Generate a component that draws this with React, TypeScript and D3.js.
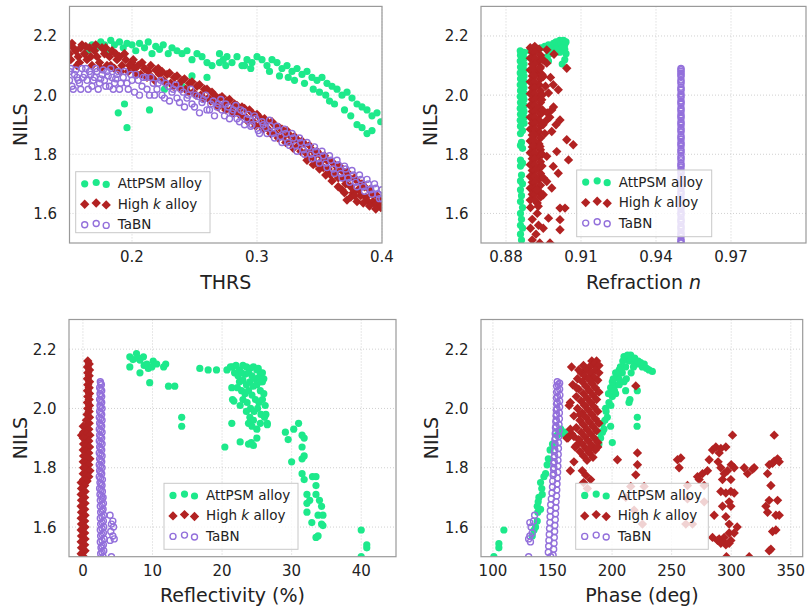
import React, { useEffect, useRef } from "react";
import * as d3 from "d3";

type Pt = [number, number];

// ---- NILS vs THRS ----
const thrsAttPsm: Pt[] = [
  [0.165, 2.15], [0.168, 2.17], [0.172, 2.16], [0.175, 2.18], [0.178, 2.17], [0.18, 2.15], [0.183, 2.185], [0.186, 2.17],
  [0.19, 2.18], [0.193, 2.16], [0.196, 2.175], [0.2, 2.17], [0.203, 2.15], [0.206, 2.175], [0.21, 2.16], [0.213, 2.18],
  [0.216, 2.14], [0.219, 2.165], [0.222, 2.155], [0.225, 2.17], [0.229, 2.14], [0.232, 2.16], [0.236, 2.15], [0.24, 2.14],
  [0.244, 2.15], [0.248, 2.12], [0.252, 2.14], [0.256, 2.13], [0.26, 2.11], [0.264, 2.1], [0.27, 2.14], [0.273, 2.12],
  [0.276, 2.13], [0.28, 2.11], [0.284, 2.13], [0.288, 2.1], [0.292, 2.12], [0.296, 2.11], [0.3, 2.13], [0.304, 2.12],
  [0.308, 2.1], [0.312, 2.12], [0.316, 2.11], [0.32, 2.09], [0.324, 2.1], [0.328, 2.08], [0.332, 2.09], [0.336, 2.07],
  [0.34, 2.08], [0.344, 2.06], [0.348, 2.05], [0.352, 2.06], [0.356, 2.04], [0.36, 2.03], [0.364, 2.02], [0.368, 2.0],
  [0.372, 2.01], [0.376, 1.99], [0.38, 1.97], [0.384, 1.96], [0.388, 1.95], [0.392, 1.93], [0.396, 1.94], [0.399, 1.91],
  [0.27, 2.11], [0.275, 2.1], [0.29, 2.1], [0.295, 2.09], [0.31, 2.08], [0.318, 2.065], [0.325, 2.06], [0.33, 2.05],
  [0.338, 2.04], [0.345, 2.02], [0.35, 2.01], [0.355, 2.0], [0.358, 1.98], [0.362, 1.97], [0.37, 1.95], [0.375, 1.93],
  [0.38, 1.9], [0.384, 1.89], [0.388, 1.87], [0.392, 1.88],
  [0.189, 1.94], [0.194, 1.97], [0.196, 1.89], [0.214, 1.95], [0.226, 2.02], [0.248, 2.065], [0.26, 2.06], [0.24, 2.03],
];
const thrsHighK: Pt[] = [
  [0.15, 2.17], [0.15, 2.14], [0.151, 2.12], [0.153, 2.16], [0.155, 2.15], [0.157, 2.13], [0.158, 2.11], [0.16, 2.17],
  [0.162, 2.14], [0.164, 2.12], [0.166, 2.16], [0.168, 2.1], [0.17, 2.15], [0.172, 2.13], [0.174, 2.11], [0.176, 2.16],
  [0.178, 2.14], [0.18, 2.1], [0.182, 2.13], [0.184, 2.15], [0.186, 2.09], [0.188, 2.12], [0.19, 2.13], [0.192, 2.1],
  [0.195, 2.12], [0.197, 2.08], [0.2, 2.11], [0.202, 2.09], [0.205, 2.1], [0.207, 2.07], [0.21, 2.09], [0.213, 2.08],
  [0.216, 2.06], [0.219, 2.085], [0.222, 2.07], [0.225, 2.05], [0.228, 2.07], [0.231, 2.04], [0.234, 2.06], [0.237, 2.035],
  [0.24, 2.05], [0.243, 2.02], [0.246, 2.04], [0.249, 2.01], [0.252, 2.03], [0.255, 2.0], [0.258, 2.02], [0.261, 1.99],
  [0.264, 2.01], [0.267, 1.975], [0.27, 1.99], [0.273, 1.965], [0.276, 1.98], [0.279, 1.95], [0.282, 1.97], [0.285, 1.94],
  [0.288, 1.96], [0.291, 1.925], [0.294, 1.95], [0.297, 1.91], [0.3, 1.935], [0.303, 1.9], [0.306, 1.92], [0.309, 1.885],
  [0.312, 1.91], [0.315, 1.87], [0.318, 1.89], [0.321, 1.86], [0.324, 1.88], [0.327, 1.84], [0.33, 1.86], [0.333, 1.83],
  [0.336, 1.845], [0.339, 1.805], [0.342, 1.83], [0.345, 1.79], [0.348, 1.81], [0.351, 1.775], [0.354, 1.795], [0.357, 1.75],
  [0.36, 1.775], [0.363, 1.74], [0.366, 1.76], [0.369, 1.72], [0.372, 1.74], [0.375, 1.69], [0.378, 1.72], [0.381, 1.68],
  [0.384, 1.7], [0.387, 1.655], [0.39, 1.68], [0.393, 1.64], [0.396, 1.66], [0.399, 1.62], [0.4, 1.64],
  [0.152, 2.175], [0.156, 2.1], [0.159, 2.16], [0.163, 2.165], [0.167, 2.13], [0.171, 2.17], [0.175, 2.09], [0.179, 2.16],
  [0.183, 2.1], [0.187, 2.14], [0.191, 2.08], [0.194, 2.14], [0.198, 2.1], [0.201, 2.12], [0.204, 2.07], [0.208, 2.11],
  [0.212, 2.06], [0.215, 2.1], [0.218, 2.05], [0.221, 2.09], [0.224, 2.08], [0.227, 2.04], [0.23, 2.075], [0.233, 2.03],
  [0.236, 2.065], [0.239, 2.02], [0.242, 2.055], [0.245, 2.01], [0.248, 2.045], [0.251, 2.0], [0.254, 2.035], [0.257, 1.99],
  [0.26, 2.02], [0.263, 1.98], [0.266, 2.0], [0.269, 1.96], [0.272, 1.995], [0.275, 1.95], [0.278, 1.985], [0.281, 1.94],
  [0.284, 1.965], [0.287, 1.93], [0.29, 1.955], [0.293, 1.91], [0.296, 1.94], [0.299, 1.895], [0.302, 1.925], [0.305, 1.885],
  [0.308, 1.91], [0.311, 1.87], [0.314, 1.9], [0.317, 1.855], [0.32, 1.885], [0.323, 1.84], [0.326, 1.865], [0.329, 1.82],
  [0.332, 1.85], [0.335, 1.81], [0.338, 1.835], [0.341, 1.79], [0.344, 1.815], [0.347, 1.77], [0.35, 1.8], [0.353, 1.755],
  [0.356, 1.78], [0.359, 1.73], [0.362, 1.765], [0.365, 1.72], [0.368, 1.745], [0.371, 1.7], [0.374, 1.72], [0.377, 1.67],
  [0.38, 1.71], [0.383, 1.66], [0.386, 1.69], [0.389, 1.64], [0.392, 1.665], [0.395, 1.63], [0.398, 1.645],
  [0.34, 1.78], [0.345, 1.765], [0.35, 1.75], [0.355, 1.73], [0.36, 1.71], [0.365, 1.69], [0.368, 1.68], [0.37, 1.67],
  [0.372, 1.645], [0.375, 1.655], [0.378, 1.66], [0.38, 1.64], [0.385, 1.635], [0.39, 1.625], [0.395, 1.615],
];
const thrsTaBN: Pt[] = [
  [0.15, 2.08], [0.15, 2.05], [0.152, 2.03], [0.154, 2.07], [0.156, 2.06], [0.158, 2.04], [0.16, 2.09], [0.162, 2.07],
  [0.164, 2.05], [0.166, 2.08], [0.168, 2.03], [0.17, 2.06], [0.172, 2.08], [0.174, 2.04], [0.176, 2.07], [0.178, 2.05],
  [0.18, 2.08], [0.182, 2.03], [0.184, 2.06], [0.186, 2.04], [0.188, 2.07], [0.19, 2.02], [0.193, 2.06], [0.196, 2.04],
  [0.199, 2.07], [0.202, 2.01], [0.205, 2.05], [0.208, 2.03], [0.211, 2.06], [0.214, 2.0], [0.217, 2.04], [0.22, 2.02],
  [0.223, 2.05], [0.226, 1.99], [0.229, 2.03], [0.232, 2.01], [0.235, 2.035], [0.238, 1.975], [0.241, 2.01], [0.244, 1.99],
  [0.247, 2.02], [0.25, 1.96], [0.253, 1.995], [0.256, 1.975], [0.259, 2.0], [0.262, 1.95], [0.265, 1.98], [0.268, 1.96],
  [0.271, 1.985], [0.274, 1.93], [0.277, 1.96], [0.28, 1.94], [0.283, 1.965], [0.286, 1.91], [0.289, 1.945], [0.292, 1.92],
  [0.295, 1.895], [0.298, 1.93], [0.301, 1.88], [0.304, 1.91], [0.307, 1.89], [0.31, 1.915], [0.313, 1.87], [0.316, 1.895],
  [0.319, 1.86], [0.322, 1.885], [0.325, 1.84], [0.328, 1.87], [0.331, 1.83], [0.334, 1.855], [0.337, 1.815], [0.34, 1.84],
  [0.343, 1.8], [0.346, 1.825], [0.349, 1.785], [0.352, 1.81], [0.355, 1.77], [0.358, 1.795], [0.361, 1.75], [0.364, 1.78],
  [0.367, 1.735], [0.37, 1.76], [0.373, 1.72], [0.376, 1.745], [0.379, 1.705], [0.382, 1.73], [0.385, 1.69], [0.388, 1.715],
  [0.391, 1.68], [0.394, 1.7], [0.397, 1.665], [0.4, 1.68], [0.4, 1.65],
  [0.151, 2.09], [0.153, 2.02], [0.155, 2.085], [0.157, 2.05], [0.159, 2.02], [0.161, 2.06], [0.163, 2.09], [0.165, 2.02],
  [0.167, 2.07], [0.169, 2.05], [0.171, 2.09], [0.173, 2.02], [0.175, 2.055], [0.177, 2.085], [0.179, 2.03], [0.181, 2.065],
  [0.183, 2.09], [0.185, 2.02], [0.187, 2.055], [0.189, 2.08], [0.191, 2.04], [0.194, 2.08], [0.197, 2.02], [0.2, 2.05],
  [0.203, 2.07], [0.206, 2.0], [0.209, 2.06], [0.212, 2.02], [0.215, 2.06], [0.218, 2.0], [0.221, 2.04], [0.224, 2.0],
  [0.227, 2.04], [0.23, 1.98], [0.233, 2.02], [0.236, 1.99], [0.239, 2.02], [0.242, 1.96], [0.245, 2.0], [0.248, 1.97],
  [0.251, 2.0], [0.254, 1.94], [0.257, 1.985], [0.26, 1.95], [0.263, 1.97], [0.266, 1.93], [0.269, 1.97], [0.272, 1.95],
  [0.275, 1.97], [0.278, 1.92], [0.281, 1.95], [0.284, 1.92], [0.287, 1.95], [0.29, 1.9], [0.293, 1.935], [0.296, 1.9],
  [0.299, 1.92], [0.302, 1.87], [0.305, 1.9], [0.308, 1.87], [0.311, 1.895], [0.314, 1.855], [0.317, 1.88], [0.32, 1.84],
  [0.323, 1.87], [0.326, 1.83], [0.329, 1.855], [0.332, 1.81], [0.335, 1.84], [0.338, 1.8], [0.341, 1.825], [0.344, 1.785],
  [0.347, 1.81], [0.35, 1.77], [0.353, 1.795], [0.356, 1.755], [0.359, 1.78], [0.362, 1.735], [0.365, 1.765], [0.368, 1.72],
  [0.371, 1.75], [0.374, 1.705], [0.377, 1.73], [0.38, 1.69], [0.383, 1.715], [0.386, 1.675], [0.389, 1.7], [0.392, 1.665],
  [0.395, 1.685], [0.398, 1.65],
];

// ---- NILS vs refraction n ----
const nAttPsm: Pt[] = [
  [0.8857, 2.15], [0.8872, 2.145], [0.8858, 2.135], [0.8873, 2.125], [0.8857, 2.115], [0.8872, 2.105], [0.8858, 2.095],
  [0.8873, 2.085], [0.8857, 2.075], [0.8872, 2.065], [0.8858, 2.055], [0.8873, 2.045], [0.8857, 2.035], [0.8872, 2.025],
  [0.8858, 2.015], [0.8873, 2.005], [0.8857, 1.995], [0.8872, 1.985], [0.8858, 1.975], [0.8873, 1.965], [0.8857, 1.955],
  [0.8872, 1.945], [0.8858, 1.935], [0.8873, 1.925], [0.8857, 1.915], [0.8872, 1.905], [0.8858, 1.895], [0.8866, 1.88],
  [0.8858, 1.87], [0.8862, 1.84], [0.8858, 1.83], [0.8866, 1.82], [0.8858, 1.78], [0.8866, 1.77], [0.8858, 1.76],
  [0.8862, 1.73], [0.8858, 1.71], [0.8866, 1.7], [0.8858, 1.68], [0.8862, 1.66], [0.8858, 1.64], [0.8866, 1.62],
  [0.8858, 1.6], [0.8862, 1.58], [0.8858, 1.56], [0.8866, 1.55], [0.8858, 1.53], [0.8862, 1.51],
  [0.8895, 2.15], [0.891, 2.155], [0.8925, 2.15], [0.894, 2.16], [0.8955, 2.165], [0.8965, 2.155], [0.897, 2.17],
  [0.898, 2.16], [0.899, 2.175], [0.8995, 2.165], [0.9, 2.18], [0.901, 2.17], [0.9015, 2.185], [0.902, 2.175],
  [0.903, 2.185], [0.9035, 2.17], [0.904, 2.18], [0.9035, 2.155], [0.9025, 2.16], [0.9015, 2.145], [0.9, 2.155],
  [0.8975, 2.14], [0.8965, 2.13], [0.8985, 2.15], [0.904, 2.14], [0.9035, 2.12], [0.9025, 2.105], [0.897, 2.115],
];
const nHighK: Pt[] = [
  [0.8897, 2.16], [0.8932, 2.155], [0.8905, 2.145], [0.8938, 2.135], [0.8897, 2.125], [0.8932, 2.115], [0.8905, 2.105],
  [0.8938, 2.095], [0.8897, 2.085], [0.8932, 2.075], [0.8905, 2.065], [0.8938, 2.055], [0.8897, 2.045], [0.8932, 2.035],
  [0.8905, 2.025], [0.8938, 2.015], [0.8897, 2.005], [0.8932, 1.995], [0.8905, 1.985], [0.8938, 1.975], [0.8897, 1.965],
  [0.8932, 1.955], [0.8905, 1.945], [0.8938, 1.935], [0.8897, 1.925], [0.8932, 1.915], [0.8905, 1.905], [0.8938, 1.895],
  [0.8897, 1.885], [0.8932, 1.875], [0.8905, 1.865], [0.8938, 1.855], [0.8897, 1.845], [0.8932, 1.835], [0.8905, 1.825],
  [0.8938, 1.815], [0.8897, 1.805], [0.8932, 1.795], [0.8905, 1.785], [0.8938, 1.775], [0.8897, 1.765], [0.8932, 1.755],
  [0.8905, 1.745], [0.8938, 1.735], [0.8897, 1.725], [0.8932, 1.715], [0.8905, 1.705], [0.8938, 1.695], [0.8897, 1.685],
  [0.8932, 1.675], [0.8905, 1.665], [0.8938, 1.655], [0.8897, 1.645], [0.8925, 1.635],
  [0.8915, 2.165], [0.8915, 2.145], [0.8915, 2.125], [0.8915, 2.105], [0.8915, 2.085], [0.8915, 2.065], [0.8915, 2.045],
  [0.8915, 2.025], [0.8915, 2.005], [0.8915, 1.985], [0.8915, 1.965], [0.8915, 1.945], [0.8915, 1.925], [0.8915, 1.905],
  [0.8915, 1.885], [0.8915, 1.865], [0.8915, 1.845], [0.8915, 1.825], [0.8915, 1.805], [0.8915, 1.785], [0.8915, 1.765],
  [0.8915, 1.745], [0.8915, 1.725], [0.8915, 1.705], [0.8915, 1.685], [0.8915, 1.665], [0.8915, 1.645],
  [0.8948, 2.12], [0.8945, 2.0], [0.8948, 1.9], [0.8945, 1.8], [0.895, 1.72], [0.8944, 1.76], [0.8946, 1.95], [0.8944, 2.07],
  [0.8898, 1.62], [0.8925, 1.6], [0.8905, 1.58], [0.893, 1.56], [0.8898, 1.55], [0.892, 1.53], [0.8905, 1.51], [0.8935, 1.5],
  [0.8992, 2.138], [0.9043, 2.091], [0.8963, 2.108], [0.8989, 2.035], [0.9009, 2.018], [0.897, 2.007], [0.8983, 1.95],
  [0.8963, 1.916], [0.9016, 1.916], [0.8983, 1.877], [0.9043, 1.849], [0.9069, 1.832], [0.905, 1.781], [0.9003, 1.809],
  [0.8963, 1.793], [0.8989, 1.759], [0.9009, 1.736], [0.8963, 1.708], [0.8983, 1.686], [0.8949, 1.663], [0.9016, 1.618],
  [0.9036, 1.618], [0.9016, 1.579], [0.9016, 1.545], [0.897, 1.584], [0.8949, 1.55], [0.8976, 1.5], [0.8923, 1.68],
  [0.8929, 1.624], [0.8936, 1.826], [0.8943, 1.984], [0.8949, 2.063], [0.8963, 2.153], [0.8936, 2.09], [0.8965, 1.94],
  [0.8975, 1.925], [0.899, 1.96], [0.8955, 1.87], [0.8978, 2.06], [0.8958, 2.03], [0.9, 1.9],
];
const nTaBN: Pt[] = [
  [0.95, 1.5], [0.95, 1.511], [0.95, 1.523], [0.95, 1.535], [0.95, 1.546], [0.95, 1.558], [0.95, 1.57], [0.95, 1.581],
  [0.95, 1.593], [0.95, 1.605], [0.95, 1.617], [0.95, 1.628], [0.95, 1.64], [0.95, 1.652], [0.95, 1.664], [0.95, 1.675],
  [0.95, 1.687], [0.95, 1.699], [0.95, 1.71], [0.95, 1.722], [0.95, 1.734], [0.95, 1.746], [0.95, 1.757], [0.95, 1.769],
  [0.95, 1.781], [0.95, 1.793], [0.95, 1.804], [0.95, 1.816], [0.95, 1.828], [0.95, 1.84], [0.95, 1.851], [0.95, 1.863],
  [0.95, 1.875], [0.95, 1.887], [0.95, 1.898], [0.95, 1.91], [0.95, 1.922], [0.95, 1.934], [0.95, 1.945], [0.95, 1.957],
  [0.95, 1.969], [0.95, 1.98], [0.95, 1.992], [0.95, 2.004], [0.95, 2.016], [0.95, 2.027], [0.95, 2.039], [0.95, 2.051],
  [0.95, 2.063], [0.95, 2.074], [0.95, 2.086], [0.95, 2.09],
  [0.95, 1.506], [0.95, 1.529], [0.95, 1.552], [0.95, 1.575], [0.95, 1.599], [0.95, 1.622], [0.95, 1.646], [0.95, 1.669],
  [0.95, 1.693], [0.95, 1.716], [0.95, 1.74], [0.95, 1.763], [0.95, 1.787], [0.95, 1.81], [0.95, 1.834], [0.95, 1.857],
  [0.95, 1.881], [0.95, 1.904], [0.95, 1.928], [0.95, 1.951], [0.95, 1.975], [0.95, 1.998], [0.95, 2.021], [0.95, 2.045],
  [0.95, 2.068], [0.95, 2.08],
];

// ---- NILS vs reflectivity (%) ----
const reflAttPsm: Pt[] = [
  [6.74, 2.174], [6.74, 2.14], [7.7, 2.185], [8.2, 2.163], [8.7, 2.174], [9.2, 2.15], [8.2, 2.12], [9.4, 2.135],
  [10.1, 2.16], [10.6, 2.15], [11.6, 2.14], [11.9, 2.15], [9.6, 2.087], [12.3, 2.075], [13.2, 2.075], [14.2, 1.97],
  [14.2, 1.94], [16.8, 2.135], [18.0, 2.13], [19.2, 2.13], [7.2, 2.165], [8.8, 2.145], [7.9, 2.17], [9.9, 2.14],
  [21.5, 2.14], [22, 2.145], [22.5, 2.13], [23, 2.145], [23.5, 2.14], [24, 2.135], [24.5, 2.14], [25, 2.13], [25.5, 2.12],
  [21.8, 2.12], [22.3, 2.11], [22.8, 2.12], [23.3, 2.115], [23.8, 2.12], [24.3, 2.11], [24.8, 2.1], [25.3, 2.105],
  [25.8, 2.09], [22.5, 2.09], [23, 2.095], [23.5, 2.08], [24, 2.09], [24.5, 2.075], [25, 2.08], [25.5, 2.06], [26, 2.05],
  [22.8, 2.06], [23.3, 2.05], [23.8, 2.06], [24.3, 2.045], [24.8, 2.03], [25.3, 2.02], [25.8, 2.03], [26.2, 2.01],
  [23, 2.03], [23.6, 2.02], [24.1, 2.0], [24.6, 1.99], [25.1, 2.0], [25.6, 1.98], [26.1, 1.97], [26.5, 1.95], [23.5, 1.99],
  [24, 1.97], [24.5, 1.96], [23.8, 1.95], [24.3, 1.94], [25, 1.93], [26.3, 1.98], [26.5, 1.945], [25.5, 1.95],
  [20.7, 2.13], [21.2, 2.14], [21.4, 2.07], [21.5, 2.03], [21.7, 2.025], [21.4, 1.95], [22.6, 2.01], [22.2, 2.07],
  [20.4, 1.87], [22.6, 1.887], [23.8, 1.88], [24.5, 1.875], [25, 1.9], [24.2, 1.885], [25.8, 2.12], [25.2, 2.135],
  [26, 2.1], [25.6, 2.09],
  [29.1, 1.92], [29.5, 1.895], [30.3, 1.93], [31, 1.95], [30, 1.82], [31.5, 1.91], [31.8, 1.9], [31.5, 1.87], [31.5, 1.83],
  [31.8, 1.84], [31.5, 1.78], [31.8, 1.76], [33, 1.77], [33.5, 1.77], [32.2, 1.71], [32.2, 1.68], [32.6, 1.69],
  [32.2, 1.65], [33.5, 1.74], [33.5, 1.71], [34, 1.69], [34.3, 1.67], [33.8, 1.64], [34.5, 1.64], [32.9, 1.615],
  [34.3, 1.61], [34.5, 1.605], [33.5, 1.565], [33.8, 1.57], [40, 1.59], [40.8, 1.54], [40.8, 1.53], [40, 1.5],
];
const reflHighK: Pt[] = [
  [0.7, 2.16], [0.9, 2.15], [0.65, 2.14], [0.95, 2.13], [0.7, 2.12], [0.9, 2.11], [0.65, 2.1], [0.95, 2.09], [0.7, 2.08],
  [0.9, 2.07], [0.65, 2.06], [0.95, 2.05], [0.7, 2.04], [0.9, 2.03], [0.65, 2.02], [0.95, 2.01], [0.7, 2.0], [0.9, 1.99],
  [0.6, 1.98], [0.95, 1.97], [0.5, 1.96], [0.9, 1.95],
  [0.05, 1.94], [0.45, 1.935], [0.85, 1.93], [0.1, 1.92], [0.5, 1.915], [1.0, 1.91], [-0.2, 1.91], [0.05, 1.9],
  [0.45, 1.895], [0.85, 1.89], [0.1, 1.88], [0.5, 1.875], [0.95, 1.87], [0.05, 1.86], [0.45, 1.855], [0.85, 1.85],
  [0.1, 1.84], [0.5, 1.835], [1.0, 1.83], [0.05, 1.82], [0.45, 1.815], [0.85, 1.81], [0.1, 1.8], [0.5, 1.795],
  [1.0, 1.79], [0.05, 1.78], [0.45, 1.775], [0.85, 1.77], [0.1, 1.76], [0.6, 1.755],
  [-0.25, 1.75], [0.25, 1.74], [-0.2, 1.73], [0.3, 1.72], [-0.25, 1.71], [0.25, 1.7], [-0.2, 1.69], [0.3, 1.68],
  [-0.25, 1.67], [0.25, 1.66], [-0.2, 1.65], [0.3, 1.64], [-0.25, 1.63], [0.25, 1.62], [-0.2, 1.61], [0.3, 1.6],
  [-0.25, 1.59], [0.25, 1.58], [-0.2, 1.57], [0.3, 1.56], [-0.25, 1.55], [0.25, 1.54], [-0.2, 1.53], [0.3, 1.52],
  [-0.25, 1.51], [0.1, 1.5],
];
const reflTaBN: Pt[] = [
  [2.5, 2.09], [2.65, 2.08], [2.4, 2.07], [2.7, 2.06], [2.45, 2.05], [2.7, 2.04], [2.4, 2.03], [2.7, 2.02], [2.45, 2.01],
  [2.75, 2.0], [2.4, 1.99], [2.7, 1.98], [2.35, 1.97], [2.75, 1.96], [2.4, 1.95], [2.7, 1.94], [2.35, 1.93], [2.75, 1.92],
  [2.4, 1.91], [2.7, 1.9], [2.35, 1.89], [2.75, 1.88], [2.4, 1.87], [2.7, 1.86], [2.35, 1.85], [2.75, 1.84], [2.4, 1.83],
  [2.7, 1.82], [2.35, 1.81], [2.75, 1.8], [2.4, 1.79], [2.7, 1.78], [2.35, 1.77], [2.8, 1.76], [2.45, 1.75], [2.75, 1.74],
  [2.4, 1.73], [2.8, 1.72], [2.45, 1.71], [2.9, 1.7], [2.5, 1.69], [2.95, 1.68], [2.5, 1.67], [2.9, 1.66], [2.55, 1.65],
  [3.0, 1.64], [2.5, 1.63], [2.95, 1.62], [2.55, 1.61], [3.0, 1.6], [2.5, 1.59], [2.95, 1.58], [2.55, 1.57], [3.05, 1.56],
  [2.5, 1.55], [2.95, 1.54], [2.6, 1.53], [3.0, 1.52], [2.55, 1.51], [2.9, 1.5],
  [2.55, 2.085], [2.55, 2.065], [2.55, 2.045], [2.55, 2.025], [2.55, 2.005], [2.55, 1.985], [2.55, 1.965], [2.55, 1.945],
  [2.55, 1.925], [2.55, 1.905], [2.55, 1.885], [2.55, 1.865], [2.55, 1.845], [2.55, 1.825], [2.55, 1.805], [2.55, 1.785],
  [2.55, 1.765], [2.6, 1.745], [2.6, 1.725], [2.65, 1.705], [2.75, 1.695], [2.75, 1.675], [2.75, 1.655], [2.75, 1.635],
  [2.75, 1.615], [2.75, 1.595], [2.75, 1.575], [2.75, 1.555], [2.75, 1.535], [2.75, 1.515],
  [3.9, 1.64], [4.3, 1.62], [4.1, 1.61], [4.4, 1.6], [4.0, 1.585], [4.3, 1.57], [4.5, 1.56], [3.9, 1.555], [4.1, 1.5],
];

// ---- NILS vs phase (deg) ----
const phaseAttPsm: Pt[] = [
  [100.8, 1.5], [105, 1.544], [105, 1.53], [109.2, 1.59],
  [133, 1.57], [134.5, 1.59], [135.8, 1.6], [137.2, 1.62], [137.7, 1.65], [140, 1.66], [137.2, 1.67], [138.6, 1.7],
  [141.4, 1.71], [140, 1.75], [142.8, 1.77], [144.2, 1.78], [145.5, 1.81], [141, 1.73], [138, 1.685], [146.5, 1.83],
  [148, 1.86], [150, 1.88], [154.1, 1.91], [158.3, 1.915], [156.9, 1.93], [160, 1.92],
  [189, 1.88], [190.4, 1.9], [193.2, 1.93], [191.8, 1.95], [196, 1.97], [198.8, 1.94], [194.6, 2.0], [197.4, 2.02],
  [200.2, 2.04], [198.8, 2.07], [203, 2.08], [205.8, 2.1], [208.6, 2.12], [211.4, 2.14], [214.2, 2.16], [212.8, 2.17],
  [215.6, 2.18], [218.4, 2.16], [221.2, 2.15], [225.4, 2.14], [231, 2.13], [233.8, 2.125], [203, 2.05], [200.2, 2.09],
  [206, 2.08], [211.4, 2.06], [214.2, 2.02], [215, 2.03], [221.2, 2.06], [221.2, 1.97], [221, 1.94], [200.2, 1.885],
  [192, 1.92], [195, 1.99], [199, 2.01], [202, 2.06], [204, 2.11], [207, 2.14], [209, 2.16], [210, 2.175], [213, 2.18],
  [216, 2.17], [219, 2.17], [222, 2.16], [227, 2.15], [229, 2.135], [206, 2.13], [203, 2.12], [201, 2.1], [197, 2.05],
  [194, 1.96], [190, 1.92], [212, 2.1], [216, 2.12], [218, 2.14], [210, 2.09], [224, 2.155],
];
const phaseHighK: Pt[] = [
  [183, 2.16], [187, 2.16], [185, 2.15], [189, 2.145], [181, 2.14], [178, 2.13], [186, 2.13], [174, 2.12], [182, 2.12],
  [189, 2.12], [177, 2.11], [185, 2.105], [171, 2.1], [180, 2.1], [188, 2.095], [175, 2.09], [183, 2.085], [167, 2.08],
  [178, 2.075], [186, 2.07], [172, 2.065], [181, 2.06], [189, 2.055], [176, 2.05], [184, 2.045], [170, 2.04], [179, 2.035],
  [187, 2.03], [174, 2.025], [182, 2.02], [165, 2.02], [177, 2.01], [185, 2.005], [171, 2.0], [180, 1.995], [188, 1.99],
  [175, 1.985], [183, 1.98], [168, 1.975], [178, 1.97], [186, 1.965], [173, 1.96], [181, 1.955], [189, 1.95], [176, 1.945],
  [184, 1.94], [170, 1.935], [179, 1.93], [187, 1.925], [174, 1.92], [182, 1.915], [166, 1.915], [162, 1.9], [168, 1.905],
  [177, 1.905], [185, 1.9], [172, 1.895], [180, 1.89], [188, 1.885], [175, 1.88], [183, 1.875], [170, 1.875], [178, 1.865],
  [186, 1.86], [173, 1.855], [181, 1.85], [176, 1.84], [184, 1.835], [179, 1.825],
  [166, 2.14], [164, 2.01], [163, 1.9], [165, 1.93], [169, 1.87], [168, 1.82], [165, 1.79], [175, 1.79], [178, 1.775],
  [182, 1.76], [176, 1.75], [180, 1.86], [188, 1.87], [172, 2.13], [176, 2.145], [170, 2.07], [173, 1.98],
  [204.5, 1.827], [219.9, 1.776], [215.7, 1.737], [221.3, 1.85], [221.3, 1.81], [226.9, 1.737], [218.5, 1.657],
  [211.5, 1.7], [225.5, 1.61], [219.9, 2.076], [179.3, 1.73],
  [254.9, 1.827], [256.3, 1.8], [257.7, 1.833], [263.3, 1.74], [263.3, 1.695], [261.9, 1.61], [267.5, 1.61],
  [271.7, 1.77], [273.1, 1.76], [275.9, 1.78], [277.3, 1.74], [277.3, 1.685], [280.1, 1.79], [281.5, 1.827],
  [284.3, 1.86], [287.1, 1.87], [289.9, 1.85], [291.3, 1.865], [295.5, 1.87], [285.7, 1.64], [284.3, 1.565],
  [288.5, 1.555], [289.9, 1.56], [291.3, 1.545], [292.7, 1.555], [294.1, 1.565], [295.5, 1.54], [298.3, 1.545],
  [299.7, 1.555], [298.3, 1.58], [298.3, 1.61], [302.5, 1.58], [291.3, 1.8], [292.7, 1.76], [294.1, 1.78], [296.9, 1.79],
  [299.7, 1.76], [299.7, 1.72], [302.5, 1.715], [295.5, 1.715], [291.3, 1.72], [298.3, 1.685], [299.7, 1.67],
  [292.7, 1.67], [295.5, 1.635], [301.1, 1.91], [302.5, 1.8], [310.9, 1.8], [313.7, 1.78], [317.9, 1.795], [319.3, 1.8],
  [315.1, 1.5], [331.9, 1.81], [334.7, 1.815], [336.1, 1.822], [338.9, 1.83], [340.3, 1.82], [336.1, 1.91],
  [333.3, 1.74], [338.9, 1.69], [340.3, 1.64], [337.5, 1.64], [337.5, 1.59], [334.7, 1.585], [331.9, 1.69], [330.5, 1.65],
  [329.1, 1.67], [331.9, 1.52], [333.3, 1.525], [330.5, 1.78], [296, 1.5], [305, 1.6], [289, 1.82], [300, 1.81],
];
const phaseTaBN: Pt[] = [
  [154, 2.09], [156, 2.085], [153.5, 2.075], [156, 2.065], [153.5, 2.055], [156.2, 2.045], [153.3, 2.035], [156, 2.025],
  [153.5, 2.015], [156, 2.005], [153.2, 1.995], [155.8, 1.985], [153, 1.975], [155.8, 1.965], [152.8, 1.955], [155.5, 1.945],
  [152.5, 1.935], [155.5, 1.925], [152.3, 1.915], [155.2, 1.905], [152, 1.895], [155, 1.885], [151.8, 1.875], [155, 1.865],
  [151.5, 1.855], [154.8, 1.845], [151.3, 1.835], [154.6, 1.825], [151, 1.815], [154.5, 1.805], [150.8, 1.795], [154.3, 1.785],
  [150.5, 1.775], [154, 1.765], [150.2, 1.755], [153.8, 1.745], [150, 1.735], [153.6, 1.725], [149.6, 1.715], [153.4, 1.705],
  [149, 1.695], [153, 1.685], [148.5, 1.675], [152.8, 1.665], [148.2, 1.655], [152.5, 1.645], [148, 1.635], [152.3, 1.625],
  [147.8, 1.615], [152, 1.605], [147.5, 1.595], [151.8, 1.585], [147.3, 1.575], [151.5, 1.565], [147, 1.555], [151.3, 1.545],
  [146.8, 1.535], [151, 1.525], [146.5, 1.515], [150.5, 1.505], [148.5, 1.5],
  [154.8, 2.08], [154.5, 2.06], [154.3, 2.04], [154, 2.02], [153.8, 2.0], [153.5, 1.98], [153.3, 1.96], [153, 1.94],
  [152.8, 1.92], [152.5, 1.9], [152.2, 1.88], [152, 1.86], [151.8, 1.84], [151.5, 1.82], [151.2, 1.8], [151, 1.78],
  [130, 1.56], [131, 1.57], [132, 1.6], [131, 1.615], [134, 1.62], [135, 1.64], [131.5, 1.55], [130, 1.5], [133, 1.58],
];

const yTicks = [1.6, 1.8, 2.0, 2.2];
const seriesNames = ["AttPSM alloy", "High k alloy", "TaBN"];
const colors = { att: "#1de98b", highK: "#b22222", tabn: "#9370db" };

interface Panel {
  left: number; right: number; top: number; bottom: number;
  xDomain: [number, number];
  xTicks: number[];
  xFmt: (v: number) => string;
  xLabel: string;
  xLabelItalic?: string;
  yLabelX: number;
  legend: { x: number; y: number; w: number; h: number };
  att: Pt[]; highK: Pt[]; tabn: Pt[];
}

const panels: Panel[] = [
  {
    left: 69.5, right: 382, top: 6.4, bottom: 243, xDomain: [0.15, 0.4], xTicks: [0.2, 0.3, 0.4],
    xFmt: d3.format(".1f"), xLabel: "THRS", yLabelX: 27,
    legend: { x: 75.7, y: 171.7, w: 134.3, h: 61 },
    att: thrsAttPsm, highK: thrsHighK, tabn: thrsTaBN,
  },
  {
    left: 481, right: 806, top: 6.4, bottom: 243, xDomain: [0.87, 1.0], xTicks: [0.88, 0.91, 0.94, 0.97],
    xFmt: d3.format(".2f"), xLabel: "Refraction ", xLabelItalic: "n", yLabelX: 437,
    legend: { x: 576.7, y: 170, w: 135, h: 66.7 },
    att: nAttPsm, highK: nHighK, tabn: nTaBN,
  },
  {
    left: 69, right: 396, top: 319.5, bottom: 556.7, xDomain: [-2, 45], xTicks: [0, 10, 20, 30, 40],
    xFmt: d3.format("d"), xLabel: "Reflectivity (%)", yLabelX: 27,
    legend: { x: 164, y: 483.3, w: 134, h: 66 },
    att: reflAttPsm, highK: reflHighK, tabn: reflTaBN,
  },
  {
    left: 481, right: 802.7, top: 319.5, bottom: 556.7, xDomain: [90, 360], xTicks: [100, 150, 200, 250, 300, 350],
    xFmt: d3.format("d"), xLabel: "Phase (deg)", yLabelX: 438,
    legend: { x: 575.7, y: 483.3, w: 132.6, h: 66 },
    att: phaseAttPsm, highK: phaseHighK, tabn: phaseTaBN,
  },
];

const FONT = "'DejaVu Sans', sans-serif";

function drawMarker(g: any, kind: string, x: number, y: number) {
  if (kind === "att") {
    g.append("circle").attr("cx", x).attr("cy", y).attr("r", 3.6).attr("fill", colors.att);
  } else if (kind === "highK") {
    g.append("path")
      .attr("d", d3.symbol(d3.symbolSquare, 44)())
      .attr("transform", `translate(${x},${y}) rotate(45)`)
      .attr("fill", colors.highK);
  } else {
    g.append("circle").attr("cx", x).attr("cy", y).attr("r", 3)
      .attr("fill", "none").attr("stroke", colors.tabn).attr("stroke-width", 1.4);
  }
}

export default function App() {
  const ref = useRef<SVGSVGElement>(null);

  useEffect(() => {
    const svg = d3.select(ref.current);
    svg.selectAll("*").remove();
    svg.append("rect").attr("width", 807).attr("height", 610).attr("fill", "#fff");

    panels.forEach((p, i) => {
      const x = d3.scaleLinear().domain(p.xDomain).range([p.left, p.right]);
      const y = d3.scaleLinear().domain([1.5, 2.3]).range([p.bottom, p.top]);
      const g = svg.append("g");

      // grid
      g.selectAll(".gx").data(p.xTicks).enter().append("line")
        .attr("x1", (d) => x(d)).attr("x2", (d) => x(d))
        .attr("y1", p.top).attr("y2", p.bottom)
        .attr("stroke", "#c4c4c4").attr("stroke-width", 0.8).attr("stroke-dasharray", "1,2");
      g.selectAll(".gy").data(yTicks).enter().append("line")
        .attr("x1", p.left).attr("x2", p.right)
        .attr("y1", (d) => y(d)).attr("y2", (d) => y(d))
        .attr("stroke", "#c4c4c4").attr("stroke-width", 0.8).attr("stroke-dasharray", "1,2");

      // points, clipped to the axes box
      const clipId = "clip" + i;
      svg.append("clipPath").attr("id", clipId).append("rect")
        .attr("x", p.left).attr("y", p.top).attr("width", p.right - p.left).attr("height", p.bottom - p.top);
      const pts = g.append("g").attr("clip-path", `url(#${clipId})`);
      p.att.forEach((d) => drawMarker(pts, "att", x(d[0]), y(d[1])));
      p.highK.forEach((d) => drawMarker(pts, "highK", x(d[0]), y(d[1])));
      p.tabn.forEach((d) => drawMarker(pts, "tabn", x(d[0]), y(d[1])));

      // frame
      g.append("rect").attr("x", p.left).attr("y", p.top)
        .attr("width", p.right - p.left).attr("height", p.bottom - p.top)
        .attr("fill", "none").attr("stroke", "#9a9a9a").attr("stroke-width", 1.2);

      // tick labels
      g.selectAll(".tx").data(p.xTicks).enter().append("text")
        .attr("x", (d) => x(d)).attr("y", p.bottom + 19)
        .attr("text-anchor", "middle").attr("font-family", FONT).attr("font-size", 15).attr("fill", "#222")
        .text((d) => p.xFmt(d));
      g.selectAll(".ty").data(yTicks).enter().append("text")
        .attr("x", p.left - 12.5).attr("y", (d) => y(d) + 5.5)
        .attr("text-anchor", "end").attr("font-family", FONT).attr("font-size", 15).attr("fill", "#222")
        .text((d) => d3.format(".1f")(d));

      // axis labels
      const xl = g.append("text")
        .attr("x", (p.left + p.right) / 2).attr("y", p.bottom + 45.5)
        .attr("text-anchor", "middle").attr("font-family", FONT).attr("font-size", 19).attr("fill", "#222");
      xl.append("tspan").text(p.xLabel);
      if (p.xLabelItalic) xl.append("tspan").attr("font-style", "italic").text(p.xLabelItalic);
      g.append("text")
        .attr("transform", `translate(${p.yLabelX},${(p.top + p.bottom) / 2}) rotate(-90)`)
        .attr("text-anchor", "middle").attr("font-family", FONT).attr("font-size", 19).attr("fill", "#222")
        .text("NILS");

      // legend
      const L = p.legend;
      const lg = g.append("g");
      lg.append("rect").attr("x", L.x).attr("y", L.y).attr("width", L.w).attr("height", L.h)
        .attr("fill", "#fff").attr("fill-opacity", 0.8).attr("stroke", "#c8c8c8").attr("stroke-width", 1);
      const rows = [11.5, 32, 52.5];
      const kinds = ["att", "highK", "tabn"];
      const mx = [9, 20.5, 30.5];
      const jitter = [0.6, -0.7, 1.2];
      kinds.forEach((k, r) => {
        const ry = L.y + rows[r];
        mx.forEach((ox, j) => drawMarker(lg, k, L.x + ox, ry + jitter[j]));
        const t = lg.append("text").attr("x", L.x + 42).attr("y", ry + 5)
          .attr("font-family", FONT).attr("font-size", 13.5).attr("fill", "#222");
        if (k === "highK") {
          t.append("tspan").text("High ");
          t.append("tspan").attr("font-style", "italic").text("k");
          t.append("tspan").text(" alloy");
        } else {
          t.text(seriesNames[r]);
        }
      });
    });
  }, []);

  return (
    <svg ref={ref} width={807} height={610}
      style={{ position: "absolute", left: 0, top: 0, display: "block" }} />
  );
}
